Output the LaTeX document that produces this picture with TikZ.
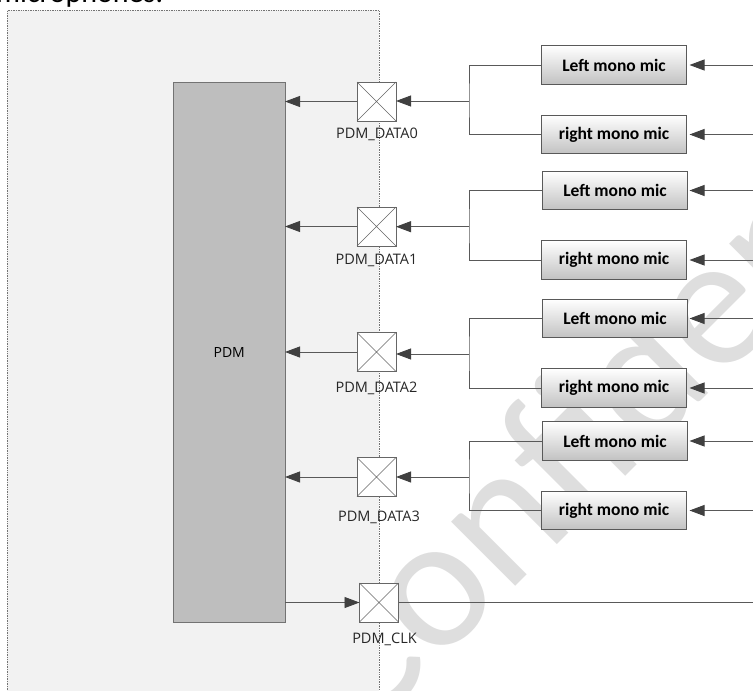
\documentclass[tikz,border=0pt]{standalone}
\usepackage{fontspec}
\setmainfont{Carlito}
\newfontfamily\padfont{Open Sans}
\usetikzlibrary{arrows.meta}
\definecolor{wm}{HTML}{DEDEDE}
\definecolor{panel}{HTML}{F2F2F2}
\definecolor{block}{HTML}{BEBEBE}
\definecolor{ln}{HTML}{595959}
\tikzset{
  x=1pt,y=-1pt,
  mic/.style={draw=ln,line width=0.9pt,minimum width=145pt,minimum height=38.5pt,inner sep=0pt,outer sep=0pt,
    top color=white,bottom color=black!24,font=\fontsize{17.5}{18}\selectfont\bfseries,text=black},
  pad/.style={draw=black!60,fill=white,line width=1pt,minimum size=39pt,inner sep=0pt,outer sep=0pt},
  padlabel/.style={font=\padfont\fontsize{14.5}{15}\selectfont,text=black!85,inner sep=0pt},
  conn/.style={draw=ln,line width=0.9pt},
  arr/.style={conn,-{Triangle[length=15pt,width=11pt,color=black!75]}},
}
\newcommand{\padcross}[1]{\draw[black!60,line width=0.6pt] (#1.north west)--(#1.south east) (#1.north east)--(#1.south west);}
\begin{document}
\begin{tikzpicture}
\useasboundingbox (0,0) rectangle (753,691);
\clip (0,0) rectangle (753,691);
% watermark
\node[rotate=45,text=wm,anchor=base,font=\fontsize{190}{190}\selectfont,inner sep=0pt] (wmark) at (694,408) {Confidential};
% cropped heading
\node[anchor=base west,font=\fontsize{30}{30}\selectfont,text=black,inner sep=0pt] (head) at (-4,2.5) {microphones:};
% panel
\node[draw=black!55,densely dotted,fill=panel,line width=0.7pt,minimum width=372pt,minimum height=690pt,inner sep=0pt,anchor=north west] (panel) at (7,10) {};
% PDM
\node[draw=black!55,fill=block,line width=1pt,minimum width=111.5pt,minimum height=540pt,anchor=north west,inner sep=0pt,outer sep=0pt,font=\padfont\fontsize{14}{14}\selectfont] (pdm) at (173.5,82) {PDM};
% pads
\node[pad] (p0) at (376.5,101.5) {};
\node[pad] (p1) at (376.5,226.5) {};
\node[pad] (p2) at (376.5,352) {};
\node[pad] (p3) at (376.5,477) {};
\node[pad] (pc) at (379,602.5) {};
\padcross{p0}\padcross{p1}\padcross{p2}\padcross{p3}\padcross{pc}
\node[padlabel] (l0) at (377,134) {PDM\_DATA0};
\node[padlabel] (l1) at (376.5,260) {PDM\_DATA1};
\node[padlabel] (l2) at (376.5,388) {PDM\_DATA2};
\node[padlabel] (l3) at (379,517) {PDM\_DATA3};
\node[padlabel] (lc) at (384.5,639) {PDM\_CLK};
% mics
\node[mic] (a0) at (614,65) {Left mono mic};
\node[mic] (b0) at (614,134.5) {right mono mic};
\node[mic] (a1) at (615,190.5) {Left mono mic};
\node[mic] (b1) at (614,260) {right mono mic};
\node[mic] (a2) at (615,318.5) {Left mono mic};
\node[mic] (b2) at (614,388) {right mono mic};
\node[mic] (a3) at (615,441) {Left mono mic};
\node[mic] (b3) at (614,510.5) {right mono mic};
% junctions and free ends
\coordinate (j0) at (469,101);
\coordinate (j1) at (469,226.7);
\coordinate (j2) at (469,354);
\coordinate (j3) at (469,477);
\foreach \n/\yy in {0/65,1/134.5,2/190.5,3/260,4/318.5,5/388,6/441,7/510.5}
  \coordinate (e\n) at (753,\yy);
\coordinate (ec) at (753,602.5);
% connectors
\draw[conn] (a0.west) -| (j0) |- (b0.west);
\draw[conn] (a1.west) -| (j1) |- (b1.west);
\draw[conn] (a2.west) -| (j2) |- (b2.west);
\draw[conn] (a3.west) -| (j3) |- (b3.west);
\draw[arr] (j0) -- (j0 -| p0.east);
\draw[arr] (j1) -- (j1 -| p1.east);
\draw[arr] (j2) -- (j2 -| p2.east);
\draw[arr] (j3) -- (j3 -| p3.east);
\draw[arr] (p0.west) -- (p0.west -| pdm.east);
\draw[arr] (p1.west) -- (p1.west -| pdm.east);
\draw[arr] (p2.west) -- (p2.west -| pdm.east);
\draw[arr] (p3.west) -- (p3.west -| pdm.east);
\draw[arr] (pc.west -| pdm.east) -- (pc.west);
\draw[conn] (pc.east) -- (ec);
\draw[arr,shorten >=3pt] (e0) -- (a0.east);
\draw[arr,shorten >=3pt] (e1) -- (b0.east);
\draw[arr,shorten >=2pt] (e2) -- (a1.east);
\draw[arr,shorten >=3pt] (e3) -- (b1.east);
\draw[arr,shorten >=2pt] (e4) -- (a2.east);
\draw[arr,shorten >=3pt] (e5) -- (b2.east);
\draw[arr,shorten >=2pt] (e6) -- (a3.east);
\draw[arr,shorten >=3pt] (e7) -- (b3.east);
\end{tikzpicture}
\end{document}
